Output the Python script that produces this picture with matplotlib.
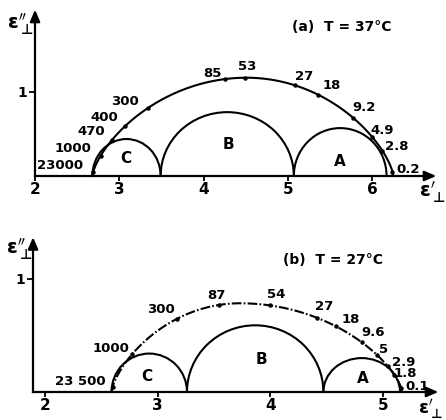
import numpy as np
import matplotlib
matplotlib.use("Agg")
import matplotlib.pyplot as plt
from matplotlib.patches import Arc

plt.rcParams['font.family'] = ['DejaVu Sans']
plt.rcParams['font.weight'] = 'bold'
plt.rcParams['lines.scale_dashes'] = False

# ---------------- (a) T = 37 °C ----------------
a_freq_labels = ["23000", "1000", "470", "400", "300", "85", "53",
                 "27", "18", "9.2", "4.9", "2.8", "0.2"]
a_freq_eps1 = [2.69, 2.78, 2.91, 3.07, 3.34, 4.25, 4.49,
               5.08, 5.36, 5.77, 6.00, 6.12, 6.24]
a_outer_start, a_outer_peak, a_outer_end, a_outer_height = 2.68, 4.51, 6.25, 1.17
a_sub_names = ["C", "B", "A"]
a_sub_start = [2.68, 3.49, 5.07]
a_sub_end = [3.49, 5.07, 6.17]
a_sub_height = [0.44, 0.76, 0.57]
a_xticks = [2, 3, 4, 5, 6]
a_yticks = [1]

# ---------------- (b) T = 27 °C ----------------
b_freq_labels = ["23 500", "1000", "300", "87", "54", "27", "18",
                 "9.6", "5", "2.9", "1.8", "0.1"]
b_freq_eps1 = [2.60, 2.772, 3.17, 3.54, 4.00, 4.41, 4.58,
               4.81, 4.95, 5.04, 5.10, 5.16]
b_outer_start, b_outer_peak, b_outer_end, b_outer_height = 2.59, 3.73, 5.17, 0.785
b_sub_names = ["C", "B", "A"]
b_sub_start = [2.59, 3.26, 4.47]
b_sub_end = [3.26, 4.47, 5.15]
b_sub_height = [0.34, 0.59, 0.30]
b_xticks = [2, 3, 4, 5]
b_yticks = [1]

W, H = 446, 420
fig = plt.figure(figsize=(W / 100, H / 100), dpi=100)


def fig_xy(px, py):
    return px / W, 1 - py / H


def envelope(x, start, peak, end, height, k=0.7):
    x = np.asarray(x, dtype=float)
    half = np.where(x < peak, peak - start, end - peak)
    u = (x - peak) / half
    return height * np.clip(1 - u ** 2, 0, None) ** k


def draw_panel(ax, x_axis0, x_tip, y_tip, xticks, yticks,
               start, peak, end, height, outer_style,
               sub_names, sub_start, sub_end, sub_height, sub_label_xy,
               labels, eps1, offsets):
    lw_axis = 1.6
    for s in ['top', 'right']:
        ax.spines[s].set_visible(False)
    ax.spines['bottom'].set_position(('data', 0))
    ax.spines['left'].set_position(('data', x_axis0))
    ax.spines['bottom'].set_bounds(x_axis0, x_tip - 0.05)
    ax.spines['left'].set_bounds(0, y_tip - 0.05)
    ax.spines['bottom'].set_linewidth(lw_axis)
    ax.spines['left'].set_linewidth(lw_axis)
    # arrow heads
    ax.annotate('', xy=(x_tip, 0), xytext=(x_tip - 0.1, 0),
                arrowprops=dict(arrowstyle='-|>,head_length=0.7,head_width=0.3',
                                color='black', lw=lw_axis, shrinkA=0, shrinkB=0))
    ax.annotate('', xy=(x_axis0, y_tip), xytext=(x_axis0, y_tip - 0.1),
                arrowprops=dict(arrowstyle='-|>,head_length=0.7,head_width=0.3',
                                color='black', lw=lw_axis, shrinkA=0, shrinkB=0))
    ax.set_xticks(xticks)
    ax.set_xticklabels([str(t) for t in xticks])
    ax.set_yticks(yticks)
    ax.set_yticklabels([str(t) for t in yticks])
    ax.tick_params(axis='x', direction='out', length=3.5, width=1.3, pad=0.5,
                   labelsize=11)
    ax.tick_params(axis='y', direction='out', length=4.5, width=1.3, pad=1,
                   labelsize=10)
    for t in ax.get_xticklabels() + ax.get_yticklabels():
        t.set_fontweight('bold')

    # sub-relaxation arcs
    for name, s0, s1, h, (lx, ly) in zip(sub_names, sub_start, sub_end,
                                         sub_height, sub_label_xy):
        ax.add_patch(Arc(((s0 + s1) / 2, 0), s1 - s0, 2 * h, theta1=0,
                         theta2=180, lw=1.5, color='black'))
        ax.text(lx, ly, name, fontsize=11, fontweight='bold',
                ha='center', va='center')

    # outer measured arc
    xs = np.linspace(start, end, 400)
    ax.plot(xs, envelope(xs, start, peak, end, height), color='black',
            lw=1.5, **outer_style)
    ey = envelope(eps1, start, peak, end, height)
    ax.plot(eps1, ey, 'o', ms=2.2, color='black')
    for lab, x, y, (dx, dy, ha) in zip(labels, eps1, ey, offsets):
        ax.annotate(lab, xy=(x, y), xytext=(dx, dy), textcoords='offset pixels',
                    ha=ha, va='center', fontsize=9.5, fontweight='bold')


# top panel: x=2 at 35 px, 84.3 px/unit; y=0 at 176 px, 84 px/unit
ax1 = fig.add_axes([26.6 / W, 1 - 182.7 / H, 417.3 / W, 174.7 / H])
ax1.set_xlim(1.9, 6.85)
ax1.set_ylim(-0.08, 2.0)
a_offsets = [(-10, 6, 'right'), (-9, 7, 'right'), (-7, 9, 'right'),
             (-7, 8, 'right'), (-9, 6, 'right'), (-3, 6, 'right'),
             (2, 11, 'center'), (0, 9, 'left'), (4, 9, 'left'),
             (0, 10, 'left'), (-2, 7, 'left'), (3, 4, 'left'), (4, 2, 'left')]
draw_panel(ax1, 2.0, 6.76, 1.98, a_xticks, a_yticks,
           a_outer_start, a_outer_peak, a_outer_end, a_outer_height,
           dict(linestyle='-'),
           a_sub_names, a_sub_start, a_sub_end, a_sub_height,
           [(3.08, 0.21), (4.30, 0.37), (5.62, 0.17)],
           a_freq_labels, a_freq_eps1, a_offsets)

# bottom panel: x=2 at 45 px, 112.7 px/unit; y=0 at 392 px, 113 px/unit
ax2 = fig.add_axes([24.7 / W, 1 - 403.3 / H, 420.4 / W, 171.8 / H])
ax2.set_xlim(1.82, 5.55)
ax2.set_ylim(-0.1, 1.42)
b_offsets = [(-7, 5, 'right'), (-3, 6, 'right'), (-2, 9, 'right'),
             (-2, 10, 'center'), (-3, 11, 'left'), (-2, 11, 'left'),
             (6, 7, 'left'), (0, 10, 'left'), (2, 6, 'left'),
             (4, 4, 'left'), (-1, 1, 'left'), (4, 1, 'left')]
draw_panel(ax2, 1.894, 5.49, 1.37, b_xticks, b_yticks,
           b_outer_start, b_outer_peak, b_outer_end, b_outer_height,
           dict(linestyle=(0, (7, 1.6, 1.2, 1.6))),
           b_sub_names, b_sub_start, b_sub_end, b_sub_height,
           [(2.90, 0.14), (3.92, 0.29), (4.82, 0.115)],
           b_freq_labels, b_freq_eps1, b_offsets)

# axis labels and panel titles
eps2_lab = r'$\mathrm{\epsilon}_{\bot}^{\prime\prime}$'
eps1_lab = r'$\mathrm{\epsilon}_{\bot}^{\prime}$'
fig.text(*fig_xy(21, 24), eps2_lab, fontsize=14, ha='center', va='center')
fig.text(*fig_xy(20, 249), eps2_lab, fontsize=14, ha='center', va='center')
fig.text(*fig_xy(433, 192), eps1_lab, fontsize=14, ha='center', va='center')
fig.text(*fig_xy(431, 409), eps1_lab, fontsize=13, ha='center', va='center')
fig.text(*fig_xy(342, 27), '(a)  T = 37°C', fontsize=10, fontweight='bold',
         ha='center', va='center')
fig.text(*fig_xy(333, 260), '(b)  T = 27°C', fontsize=10, fontweight='bold',
         ha='center', va='center')

fig.savefig('out.png', dpi=100)
